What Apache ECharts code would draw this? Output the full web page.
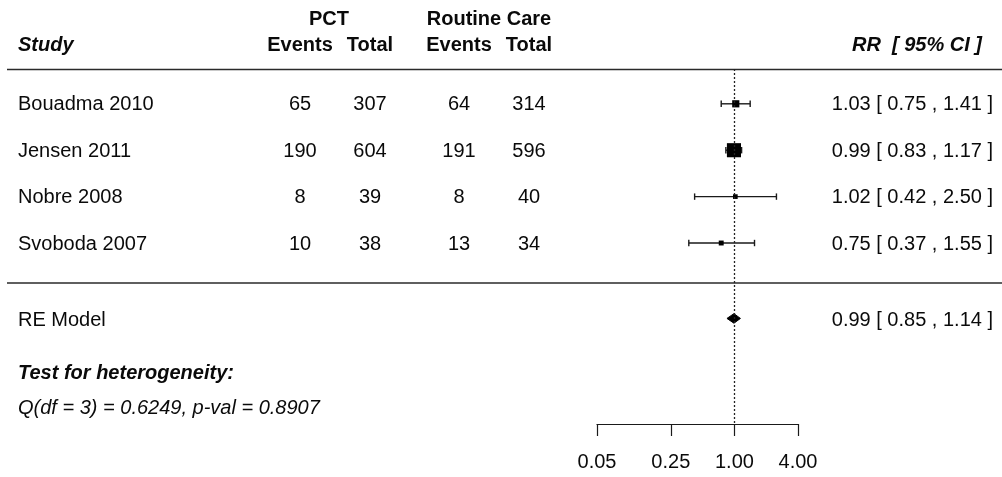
<!DOCTYPE html>
<html>
<head>
<meta charset="utf-8">
<script src="https://cdn.jsdelivr.net/npm/echarts@6/dist/echarts.min.js"></script>
<style>
  html, body { margin: 0; padding: 0; background: #ffffff; }
  #chart { width: 1002px; height: 477px; }
</style>
</head>
<body>
<div id="chart"></div>
<script>
// Study-level data
const studies   = ['Bouadma 2010', 'Jensen 2011', 'Nobre 2008', 'Svoboda 2007'];
const pctEvents = [65, 190, 8, 10];
const pctTotal  = [307, 604, 39, 38];
const rcEvents  = [64, 191, 8, 13];
const rcTotal   = [314, 596, 40, 34];
const rr        = [1.03, 0.99, 1.02, 0.75];
const ciLower   = [0.75, 0.83, 0.42, 0.37];
const ciUpper   = [1.41, 1.17, 2.50, 1.55];
const weights   = [21.0, 72.1, 2.6, 4.3];   // study weights (%)

// Pooled random-effects estimate
const modelLabel = 'RE Model';
const modelRR    = [0.99];
const modelLower = [0.85];
const modelUpper = [1.14];

// Heterogeneity test
const hetDf = 3, hetQ = 0.6249, hetP = 0.8907;

// Axis tick values (risk ratio, log scale)
const axisTicks = [0.05, 0.25, 1.00, 4.00];

const FONT = '"Liberation Sans", Arial, Helvetica, sans-serif';
const TEXT = '#0a0a0a';
const INK = '#1a1a1a';
const FS = 20;

const lg = Math.log10;
const fmt = v => v.toFixed(2);
const ciText = (e, l, u) => fmt(e) + ' [ ' + fmt(l) + ' , ' + fmt(u) + ' ]';

// column anchors of the text table
const COL = { study: 18, pctE: 300, pctT: 370, rcE: 459, rcT: 529, rrRight: 993 };

const modelRow = studies.length + 1.625;

function txt(x, y, text, align, extra) {
  return {
    type: 'text',
    style: Object.assign({
      x: x, y: y, text: String(text),
      fill: TEXT, fontSize: FS, fontFamily: FONT,
      align: align, verticalAlign: 'middle'
    }, extra || {})
  };
}

const chart = echarts.init(document.getElementById('chart'), null, { renderer: 'canvas' });

const wMin = Math.min.apply(null, weights), wMax = Math.max.apply(null, weights);
const BASE_SIZE = 9.4;

chart.setOption({
  animation: false,
  backgroundColor: '#ffffff',
  grid: { left: 597, right: 204, top: 69, bottom: 53, containLabel: false },
  xAxis: {
    type: 'value',
    min: lg(axisTicks[0]),
    max: lg(axisTicks[axisTicks.length - 1]),
    axisLine: { show: true, lineStyle: { color: INK, width: 1.2 } },
    axisTick: {
      show: true, inside: false, length: 12,
      customValues: axisTicks.map(lg),
      lineStyle: { color: INK, width: 1.2 }
    },
    axisLabel: {
      show: true,
      customValues: axisTicks.map(lg),
      formatter: v => fmt(Math.pow(10, v)),
      color: TEXT, fontSize: FS, fontFamily: FONT,
      margin: 28, lineHeight: 20
    },
    splitLine: { show: false }
  },
  yAxis: {
    type: 'value', inverse: true, min: 0.25, max: 7.9,
    show: false, splitLine: { show: false }
  },
  graphic: [
    { type: 'line', shape: { x1: 7, y1: 69.5, x2: 1002, y2: 69.5 }, style: { stroke: '#2a2a2a', lineWidth: 1.5 } },
    { type: 'line', shape: { x1: 7, y1: 283, x2: 1002, y2: 283 }, style: { stroke: '#2a2a2a', lineWidth: 1.5 } },
    txt(COL.study, 45, 'Study', 'left', { fontWeight: 'bold', fontStyle: 'italic' }),
    txt(329, 19, 'PCT', 'center', { fontWeight: 'bold' }),
    txt(COL.pctE, 45, 'Events', 'center', { fontWeight: 'bold' }),
    txt(COL.pctT, 45, 'Total', 'center', { fontWeight: 'bold' }),
    txt(489, 19, 'Routine Care', 'center', { fontWeight: 'bold' }),
    txt(COL.rcE, 45, 'Events', 'center', { fontWeight: 'bold' }),
    txt(COL.rcT, 45, 'Total', 'center', { fontWeight: 'bold' }),
    txt(982, 45, 'RR  [ 95% CI ]', 'right', { fontWeight: 'bold', fontStyle: 'italic' }),
    txt(COL.study, 373, 'Test for heterogeneity:', 'left', { fontWeight: 'bold', fontStyle: 'italic' }),
    txt(COL.study, 408, 'Q(df = ' + hetDf + ') = ' + hetQ.toFixed(4) + ', p-val = ' + hetP.toFixed(4), 'left', { fontStyle: 'italic' })
  ],
  series: [
    {
      // study rows: text columns
      type: 'custom',
      name: 'table',
      clip: false,
      silent: true,
      data: studies.map((s, i) => [0, i + 1]),
      encode: { x: 0, y: 1 },
      renderItem: function (params, api) {
        const i = params.dataIndex;
        const y = api.coord([0, api.value(1)])[1] + 1;
        return {
          type: 'group',
          children: [
            txt(COL.study, y, studies[i], 'left'),
            txt(COL.pctE, y, pctEvents[i], 'center'),
            txt(COL.pctT, y, pctTotal[i], 'center'),
            txt(COL.rcE, y, rcEvents[i], 'center'),
            txt(COL.rcT, y, rcTotal[i], 'center'),
            txt(COL.rrRight, y, ciText(rr[i], ciLower[i], ciUpper[i]), 'right')
          ]
        };
      }
    },
    {
      // confidence intervals and weighted squares
      type: 'custom',
      name: 'studies',
      clip: false,
      silent: true,
      data: studies.map((s, i) => [lg(ciLower[i]), lg(ciUpper[i]), lg(rr[i]), i + 1, weights[i]]),
      encode: { x: [0, 1, 2], y: 3 },
      renderItem: function (params, api) {
        const row = api.value(3);
        const pLo = api.coord([api.value(0), row]);
        const pHi = api.coord([api.value(1), row]);
        const pEst = api.coord([api.value(2), row]);
        const s = BASE_SIZE * (0.5 + (api.value(4) - wMin) / (wMax - wMin));
        const y = pEst[1];
        const cap = 3.2;
        const lineStyle = { stroke: INK, lineWidth: 1.4 };
        return {
          type: 'group',
          children: [
            { type: 'line', shape: { x1: pLo[0], y1: y, x2: pHi[0], y2: y }, style: lineStyle },
            { type: 'line', shape: { x1: pLo[0], y1: y - cap, x2: pLo[0], y2: y + cap }, style: lineStyle },
            { type: 'line', shape: { x1: pHi[0], y1: y - cap, x2: pHi[0], y2: y + cap }, style: lineStyle },
            { type: 'rect', shape: { x: pEst[0] - s / 2, y: y - s / 2, width: s, height: s }, style: { fill: '#000' } }
          ]
        };
      },
      markLine: {
        silent: true,
        symbol: ['none', 'none'],
        label: { show: false },
        lineStyle: { color: '#222', width: 1.3, type: [2, 2] },
        data: [{ xAxis: lg(1) }]
      }
    },
    {
      // pooled estimate: diamond and its row text
      type: 'custom',
      name: 'model',
      clip: false,
      silent: true,
      data: modelRR.map((m, i) => [lg(modelLower[i]), lg(modelUpper[i]), lg(m), modelRow]),
      encode: { x: [0, 1, 2], y: 3 },
      renderItem: function (params, api) {
        const i = params.dataIndex;
        const row = api.value(3);
        const pLo = api.coord([api.value(0), row]);
        const pHi = api.coord([api.value(1), row]);
        const pEst = api.coord([api.value(2), row]);
        const y = pEst[1];
        const h = 4.8;
        return {
          type: 'group',
          children: [
            { type: 'polygon', shape: { points: [[pLo[0], y], [pEst[0], y - h], [pHi[0], y], [pEst[0], y + h]] },
              style: { fill: '#000', stroke: '#000', lineWidth: 1 } },
            txt(COL.study, y + 2, modelLabel, 'left'),
            txt(COL.rrRight, y + 2, ciText(modelRR[i], modelLower[i], modelUpper[i]), 'right')
          ]
        };
      }
    }
  ]
});
</script>
</body>
</html>
